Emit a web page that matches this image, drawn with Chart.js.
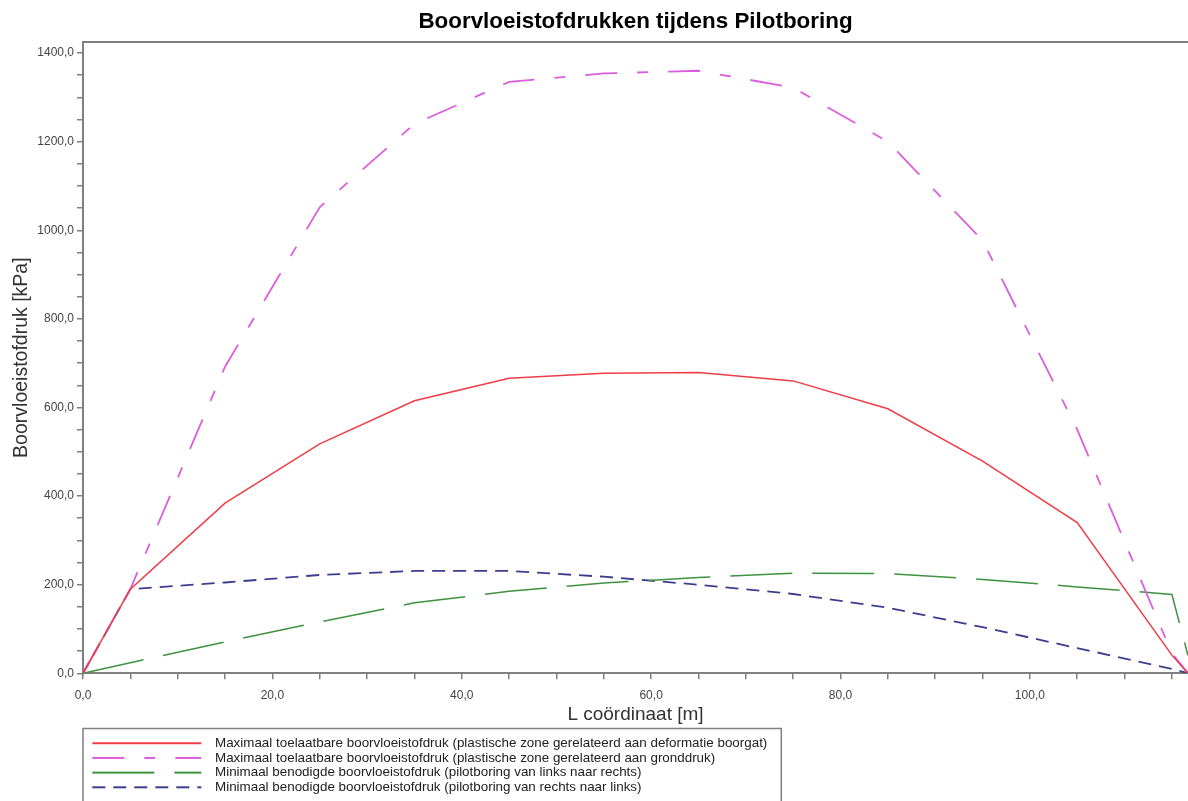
<!DOCTYPE html>
<html>
<head>
<meta charset="utf-8">
<script src="https://cdn.jsdelivr.net/npm/chart.js@4.4.1/dist/chart.umd.min.js"></script>
<style>
  html, body { margin: 0; padding: 0; background: #fff; overflow: hidden; }
  canvas { display: block; }
</style>
</head>
<body>
<canvas id="c" width="1188" height="801"></canvas>
<script>
// L coordinate along the bore [m]
const coordinates = [0, 5, 15, 25, 35, 45, 55, 65, 75, 85, 95, 105, 115, 116.7];

// Drilling fluid pressures [kPa]
const maxDeformatie  = [0, 190, 384, 518, 615, 666, 677, 679, 660, 597, 479, 340, 41, 0];
const maxGronddruk   = [0, 190, 692, 1052, 1240, 1335, 1354, 1360, 1322, 1200, 977, 550, 45, 0];
const minLinksRechts = [0, 24, 71, 116, 159, 185, 204, 216, 226, 225, 212, 195, 178, 40];
const minRechtsLinks = [0, 190, 205, 222, 231, 231, 218, 200, 179, 148, 104, 57, 10, 0];

const seriesLabels = [
  'Maximaal toelaatbare boorvloeistofdruk (plastische zone gerelateerd aan deformatie boorgat)',
  'Maximaal toelaatbare boorvloeistofdruk (plastische zone gerelateerd aan gronddruk)',
  'Minimaal benodigde boorvloeistofdruk (pilotboring van links naar rechts)',
  'Minimaal benodigde boorvloeistofdruk (pilotboring van rechts naar links)'
];

const X_MAX = 116.7;
const Y_MAX = 1425;
const AXIS_GREY = '#808080';
const FONT = "'Liberation Sans', Arial, Helvetica, sans-serif";

Chart.defaults.font.family = FONT;

const styles = [
  { color: '#f03c46', width: 1.5, dash: [] },
  { color: '#dc5ede', width: 1.8, dash: [32, 20, 11, 20] },
  { color: '#3f923f', width: 1.5, dash: [62, 20] },
  { color: '#3d3d8e', width: 1.8, dash: [13, 8] }
];

// legend sample: a line drawn inside a wider transparent strip so the text sits further right
const SAMPLE_BOX = 124, SAMPLE_OFF = 8, SAMPLE_LEN = 109;
function sampleStrip(s) {
  const c = document.createElement('canvas');
  c.width = SAMPLE_BOX; c.height = 6;
  const g = c.getContext('2d');
  g.strokeStyle = s.color;
  g.lineWidth = s.width + 0.3;
  g.setLineDash(s.dash);
  g.beginPath();
  g.moveTo(SAMPLE_OFF, 3);
  g.lineTo(SAMPLE_OFF + SAMPLE_LEN, 3);
  g.stroke();
  return c;
}
const samples = styles.map(sampleStrip);

function points(values) {
  return coordinates.map((x, i) => ({ x: x, y: values[i] }));
}

const seriesValues = [maxDeformatie, maxGronddruk, minLinksRechts, minRechtsLinks];
const datasets = seriesValues.map((vals, i) => ({
  label: seriesLabels[i],
  data: points(vals),
  borderColor: styles[i].color,
  backgroundColor: styles[i].color,
  borderWidth: styles[i].width,
  borderDash: styles[i].dash,
  pointRadius: 0,
  tension: 0,
  fill: false
}));

// frame round the legend rows
const legendFrame = {
  id: 'legendFrame',
  afterDraw(chart) {
    const lg = chart.legend;
    if (!lg || !lg.legendHitBoxes || !lg.legendHitBoxes.length) return;
    const boxes = lg.legendHitBoxes;
    const right = Math.max(...boxes.map(b => b.left + b.width)) + 14;
    const top = boxes[0].top - 8;
    const left = chart.chartArea.left;
    const ctx = chart.ctx;
    ctx.save();
    ctx.strokeStyle = AXIS_GREY;
    ctx.lineWidth = 1.5;
    ctx.strokeRect(left, Math.round(top) + 0.5, right - left, chart.height - top + 20);
    ctx.restore();
  }
};

const commaFmt = (v, step) => {
  const r = Math.round(v * 1000) / 1000;
  return Math.abs(r % step) < 1e-6 ? r.toFixed(1).replace('.', ',') : '';
};

new Chart(document.getElementById('c'), {
  type: 'line',
  data: { datasets: datasets },
  plugins: [legendFrame],
  options: {
    responsive: false,
    animation: false,
    events: [],
    // the legend frame runs off the bottom edge, so the layout reaches slightly past it
    layout: { padding: { left: 0, right: 0, top: 0, bottom: -3 } },
    plugins: {
      title: {
        display: true,
        text: 'Boorvloeistofdrukken tijdens Pilotboring',
        fullSize: false,
        color: '#000',
        font: { size: 22.4, weight: 'bold', family: FONT },
        padding: { top: 8, bottom: 7.1 }
      },
      legend: {
        display: true,
        position: 'bottom',
        align: 'start',
        fullSize: false,
        labels: {
          usePointStyle: true,
          pointStyleWidth: SAMPLE_BOX,
          padding: 1.3,
          color: '#222',
          font: { size: 13.4, family: FONT },
          generateLabels(chart) {
            const items = Chart.defaults.plugins.legend.labels.generateLabels(chart);
            items.forEach(it => { it.pointStyle = samples[it.datasetIndex]; });
            return items;
          }
        }
      },
      tooltip: { enabled: false }
    },
    scales: {
      x: {
        type: 'linear',
        position: 'bottom',
        min: 0,
        max: X_MAX,
        afterFit(scale) { scale.height = 61.9; },
        border: { display: true, color: AXIS_GREY, width: 2 },
        grid: { display: true, drawOnChartArea: false, drawTicks: true, tickLength: 6, color: AXIS_GREY, lineWidth: 1.5 },
        ticks: {
          stepSize: 5,
          autoSkip: false,
          includeBounds: false,
          maxRotation: 0,
          padding: 9,
          color: '#444',
          font: { size: 12 },
          callback: v => commaFmt(v, 20)
        },
        title: {
          display: true,
          text: 'L coördinaat [m]',
          color: '#333',
          font: { size: 19 },
          padding: { top: 0, bottom: 9.5 }
        }
      },
      xTop: {
        type: 'linear',
        position: 'top',
        min: 0,
        max: X_MAX,
        afterFit(scale) { scale.height = 0; },
        border: { display: true, color: AXIS_GREY, width: 2 },
        grid: { display: false, drawTicks: false },
        ticks: { display: false }
      },
      y: {
        type: 'linear',
        min: 0,
        max: Y_MAX,
        afterFit(scale) { scale.width = 83; },
        border: { display: true, color: AXIS_GREY, width: 2 },
        grid: { display: true, drawOnChartArea: false, drawTicks: true, tickLength: 6, color: AXIS_GREY, lineWidth: 1.5 },
        ticks: {
          stepSize: 50,
          autoSkip: false,
          includeBounds: false,
          padding: 3,
          color: '#444',
          font: { size: 12 },
          callback: v => commaFmt(v, 200)
        },
        title: {
          display: true,
          text: 'Boorvloeistofdruk [kPa]',
          color: '#333',
          font: { size: 19.5 },
          padding: { top: 10, bottom: 0 }
        }
      }
    }
  }
});
</script>
</body>
</html>
